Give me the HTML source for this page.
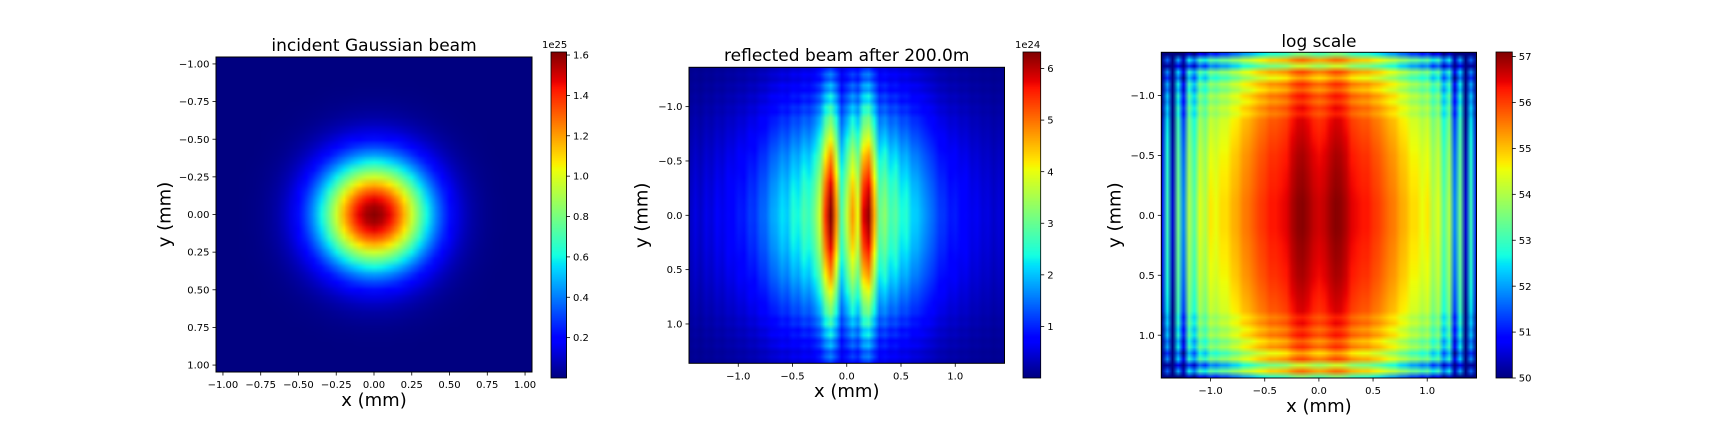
<!DOCTYPE html>
<html><head><meta charset="utf-8">
<style>
html,body{margin:0;padding:0;background:#fff;}
#fig{position:relative;width:1728px;height:432px;overflow:hidden;background:#fff;font-family:"DejaVu Sans","Liberation Sans",sans-serif;}
.clip{position:absolute;overflow:hidden;}
.clip canvas{position:absolute;image-rendering:auto;}
svg{position:absolute;left:0;top:0;}
</style></head>
<body>
<div id="fig">
  <div class="clip" id="clip1"><canvas id="c1"></canvas></div>
  <div class="clip" id="clip2"><canvas id="c2"></canvas></div>
  <div class="clip" id="clip3"><canvas id="c3"></canvas></div>
  <div class="clip" id="cbclip1"><canvas id="cb1"></canvas></div>
  <div class="clip" id="cbclip2"><canvas id="cb2"></canvas></div>
  <div class="clip" id="cbclip3"><canvas id="cb3"></canvas></div>
  <svg id="ov" width="1728" height="432"></svg>
</div>
<script>
// ---------- data ----------
const p1Coords = [-1.05,-1.0,-0.95,-0.9,-0.85,-0.8,-0.75,-0.7,-0.65,-0.6,-0.55,-0.5,-0.45,-0.4,-0.35,-0.3,-0.25,-0.2,-0.15,-0.1,-0.05,0,0.05,0.1,0.15,0.2,0.25,0.3,0.35,0.4,0.45,0.5,0.55,0.6,0.65,0.7,0.75,0.8,0.85,0.9,0.95,1.0,1.05];
const p1ProfileX = [0.0002,0.0005,0.0011,0.0024,0.005,0.0095,0.018,0.032,0.054,0.090,0.142,0.217,0.317,0.445,0.600,0.779,0.970,1.162,1.336,1.477,1.568,1.6,1.568,1.477,1.336,1.162,0.970,0.779,0.600,0.445,0.317,0.217,0.142,0.090,0.054,0.032,0.018,0.0095,0.005,0.0024,0.0011,0.0005,0.0002];
const p1ProfileY = [0.0002,0.0005,0.0011,0.0024,0.005,0.0095,0.018,0.032,0.054,0.090,0.142,0.217,0.317,0.445,0.600,0.779,0.970,1.162,1.336,1.477,1.568,1.6,1.568,1.477,1.336,1.162,0.970,0.779,0.600,0.445,0.317,0.217,0.142,0.090,0.054,0.032,0.018,0.0095,0.005,0.0024,0.0011,0.0005,0.0002];
const p1Peak = 1.6;
const p2X0 = -1.45, p2Step = 0.05;
const p2ProfileX = [0.35,0.55,0.40,0.60,0.50,0.70,0.60,0.80,0.75,0.95,0.90,1.15,1.10,1.40,1.45,1.80,1.90,2.20,2.05,2.50,2.35,2.80,2.60,3.10,3.80,5.40,6.30,4.80,2.80,3.70,4.70,4.00,5.80,6.20,4.60,3.00,3.30,2.70,2.90,2.40,2.50,2.10,2.05,1.80,1.60,1.40,1.15,1.10,0.90,0.95,0.75,0.80,0.60,0.65,0.50,0.55,0.40,0.50,0.35];
const p2Y0 = -1.35;
const p2EnvelopeY = [0.18,0.26,0.22,0.32,0.28,0.38,0.34,0.44,0.42,0.50,0.52,0.56,0.60,0.64,0.68,0.72,0.76,0.79,0.82,0.85,0.88,0.91,0.93,0.95,0.97,0.98,0.995,1.0,0.995,0.98,0.97,0.95,0.93,0.91,0.88,0.85,0.82,0.79,0.76,0.72,0.68,0.64,0.60,0.56,0.52,0.50,0.42,0.44,0.34,0.38,0.28,0.32,0.22,0.26,0.18];
const p3TermX = [50.8,53.0,50.5,53.5,51.8,54.0,53.2,54.4,54.0,54.7,54.5,54.8,54.8,55.1,55.2,55.5,55.6,55.8,56.0,56.1,56.3,56.3,56.4,56.5,56.8,57.0,57.05,56.9,56.7,56.6,56.7,56.9,57.05,57.0,56.8,56.5,56.4,56.3,56.3,56.1,56.0,55.8,55.6,55.5,55.2,55.1,54.8,54.8,54.5,54.7,54.0,54.4,53.2,54.0,51.8,53.5,50.5,53.0,50.8];
const p3TermY = [-3.5,-1.4,-2.8,-1.1,-1.8,-0.9,-1.3,-0.7,-1.0,-0.6,-0.8,-0.5,-0.45,-0.4,-0.35,-0.3,-0.25,-0.2,-0.18,-0.15,-0.12,-0.1,-0.08,-0.05,-0.02,0,0,0,0,0,-0.02,-0.05,-0.08,-0.1,-0.12,-0.15,-0.18,-0.2,-0.25,-0.3,-0.35,-0.4,-0.45,-0.5,-0.8,-0.6,-1.0,-0.7,-1.3,-0.9,-1.8,-1.1,-2.8,-1.4,-3.5];
const ticks1 = [-1.00,-0.75,-0.50,-0.25,0.00,0.25,0.50,0.75,1.00];
const ticks23 = [-1.0,-0.5,0.0,0.5,1.0];
const cbTicks1 = [0.2,0.4,0.6,0.8,1.0,1.2,1.4,1.6];
const cbTicks2 = [1,2,3,4,5,6];
const cbTicks3 = [50,51,52,53,54,55,56,57];

// ---------- helpers ----------
function interp(pts,v){for(let i=1;i<pts.length;i++){if(v<=pts[i][0]){const a=pts[i-1],b=pts[i];return a[1]+(b[1]-a[1])*(v-a[0])/(b[0]-a[0]);}}return pts[pts.length-1][1];}
function jet(t){t=Math.max(0,Math.min(1,t));
 const r=interp([[0,0],[0.35,0],[0.66,1],[0.89,1],[1,0.5]],t);
 const g=interp([[0,0],[0.125,0],[0.375,1],[0.64,1],[0.91,0],[1,0]],t);
 const b=interp([[0,0.5],[0.11,1],[0.34,1],[0.65,0],[1,0]],t);
 return [r*255,g*255,b*255];}
function scale(d0,d1,r0,r1){return v=>r0+(v-d0)*(r1-r0)/(d1-d0);}
const NS="http://www.w3.org/2000/svg";
const ov=document.getElementById('ov');
function el(tag,attrs,parent){const e=document.createElementNS(NS,tag);for(const k in attrs)e.setAttribute(k,attrs[k]);(parent||ov).appendChild(e);return e;}
function fmt(v,d){return (v<0?'\u2212':'')+Math.abs(v).toFixed(d);}

const axesList=[
 {L:216,R:532,T:57,B:372,x0:-1.046,x1:1.046,y0:-1.046,y1:1.046,ticks:ticks1,dec:2,title:'incident Gaussian beam',titleY:51,xlabY:406,ylabX:165,name:'incident'},
 {L:689,R:1004.5,T:67.3,B:363.3,x0:-1.454,x1:1.454,y0:-1.362,y1:1.362,ticks:ticks23,dec:1,title:'reflected beam after 200.0m',titleY:61,xlabY:397,ylabX:642,name:'reflected'},
 {L:1161.3,R:1476.5,T:52.3,B:378,x0:-1.455,x1:1.455,y0:-1.36,y1:1.357,ticks:ticks23,dec:1,title:'log scale',titleY:47,xlabY:412,ylabX:1115,name:'log'}
];

function drawHeat(idx,canvasId,clipId,xs0,xstep,nx,ys0,ystep,ny,valFn,vmin,vmax){
 const a=axesList[idx];
 const sx=scale(a.x0,a.x1,a.L,a.R), sy=scale(a.y0,a.y1,a.T,a.B);
 const clip=document.getElementById(clipId);
 clip.style.left=a.L+'px';clip.style.top=a.T+'px';clip.style.width=(a.R-a.L)+'px';clip.style.height=(a.B-a.T)+'px';
 const c=document.getElementById(canvasId);c.width=nx;c.height=ny;
 const left=sx(xs0-xstep/2), right=sx(xs0+(nx-0.5)*xstep), top=sy(ys0-ystep/2), bot=sy(ys0+(ny-0.5)*ystep);
 c.style.left=(left-a.L)+'px';c.style.top=(top-a.T)+'px';c.style.width=(right-left)+'px';c.style.height=(bot-top)+'px';
 const ctx=c.getContext('2d');const img=ctx.createImageData(nx,ny);
 for(let j=0;j<ny;j++)for(let i=0;i<nx;i++){const col=jet((valFn(i,j)-vmin)/(vmax-vmin));const k=(j*nx+i)*4;img.data[k]=col[0];img.data[k+1]=col[1];img.data[k+2]=col[2];img.data[k+3]=255;}
 ctx.putImageData(img,0,0);
}
drawHeat(0,'c1','clip1',p1Coords[0],0.05,p1ProfileX.length,p1Coords[0],0.05,p1ProfileY.length,(i,j)=>p1ProfileX[i]*p1ProfileY[j]/p1Peak,0,1.615);
drawHeat(1,'c2','clip2',p2X0,p2Step,p2ProfileX.length,p2Y0,p2Step,p2EnvelopeY.length,(i,j)=>p2ProfileX[i]*p2EnvelopeY[j],0,6.32);
drawHeat(2,'c3','clip3',p2X0,p2Step,p3TermX.length,p2Y0,p2Step,p3TermY.length,(i,j)=>p3TermX[i]+p3TermY[j],50,57.1);

axesList.forEach((a,n)=>{
 const sx=scale(a.x0,a.x1,a.L,a.R), sy=scale(a.y0,a.y1,a.T,a.B);
 const g=el('g',{});
 
 
 el('rect',{x:a.L,y:a.T,width:a.R-a.L,height:a.B-a.T,fill:'none',stroke:'#000','stroke-width':1},g);
 a.ticks.forEach(t=>{
  const x=sx(t);
  el('line',{x1:x,y1:a.B,x2:x,y2:a.B+3.5,stroke:'#000','stroke-width':0.8},g);
  const tx=el('text',{x:x,y:a.B+16,'font-size':10,'text-anchor':'middle',fill:'#000'},g);tx.textContent=fmt(t,a.dec);
  
  
  const y=sy(t);
  el('line',{x1:a.L,y1:y,x2:a.L-3.5,y2:y,stroke:'#000','stroke-width':0.8},g);
  const ty=el('text',{x:a.L-6.5,y:y+3.6,'font-size':10,'text-anchor':'end',fill:'#000'},g);ty.textContent=fmt(t,a.dec);
  
  
 });
 const cx=(a.L+a.R)/2, cy=(a.T+a.B)/2;
 const ti=el('text',{x:cx,y:a.titleY,'font-size':17,'text-anchor':'middle',fill:'#000'},g);ti.textContent=a.title;
 
 
 const xl=el('text',{x:cx,y:a.xlabY,'font-size':18,'text-anchor':'middle',fill:'#000'},g);xl.textContent='x (mm)';
 
 
 const yl=el('text',{x:a.ylabX,y:cy,'font-size':18,'text-anchor':'middle','dominant-baseline':'central',fill:'#000',transform:'rotate(-90 '+a.ylabX+' '+cy+')'},g);yl.textContent='y (mm)';
 
 
});

const cbs=[
 {id:'cb1',clip:'cbclip1',L:551,R:566.5,T:52,B:378,v0:0,v1:1.615,ticks:cbTicks1,dec:1,off:'1e25',offX:542},
 {id:'cb2',clip:'cbclip2',L:1023,R:1040.7,T:52,B:378,v0:0,v1:6.32,ticks:cbTicks2,dec:0,off:'1e24',offX:1015},
 {id:'cb3',clip:'cbclip3',L:1496,R:1512.3,T:52,B:378,v0:50,v1:57.1,ticks:cbTicks3,dec:0,off:'',offX:0}
];
cbs.forEach(cb=>{
 const clip=document.getElementById(cb.clip);
 clip.style.left=cb.L+'px';clip.style.top=cb.T+'px';clip.style.width=(cb.R-cb.L)+'px';clip.style.height=(cb.B-cb.T)+'px';
 const c=document.getElementById(cb.id);const H=Math.round(cb.B-cb.T);c.width=1;c.height=H;
 c.style.left='0px';c.style.top='0px';c.style.width=(cb.R-cb.L)+'px';c.style.height=H+'px';
 const ctx=c.getContext('2d');const img=ctx.createImageData(1,H);
 for(let j=0;j<H;j++){const col=jet(1-(j+0.5)/H);img.data[j*4]=col[0];img.data[j*4+1]=col[1];img.data[j*4+2]=col[2];img.data[j*4+3]=255;}
 ctx.putImageData(img,0,0);
 const sy=scale(cb.v0,cb.v1,cb.B,cb.T);
 const g=el('g',{});
 
 
 el('rect',{x:cb.L,y:cb.T,width:cb.R-cb.L,height:cb.B-cb.T,fill:'none',stroke:'#000','stroke-width':0.8},g);
 cb.ticks.forEach(t=>{
  const y=sy(t);
  el('line',{x1:cb.R,y1:y,x2:cb.R+3.5,y2:y,stroke:'#000','stroke-width':0.8},g);
  const tx=el('text',{x:cb.R+6.5,y:y+3.6,'font-size':10,fill:'#000'},g);tx.textContent=t.toFixed(cb.dec);
  
  
 });
 if(cb.off){const o=el('text',{x:cb.offX,y:48,'font-size':10,fill:'#000'},g);o.textContent=cb.off;
  
  }
});
</script>
</body></html>
